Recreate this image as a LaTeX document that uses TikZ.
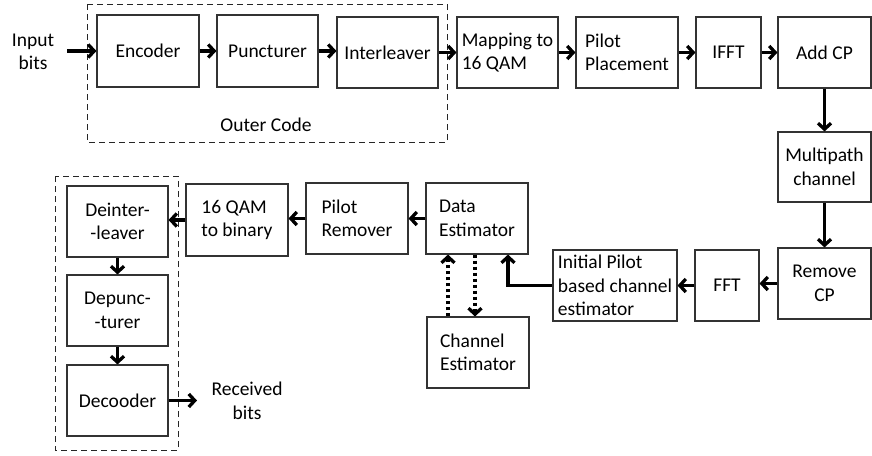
\documentclass[tikz,border=0pt]{standalone}
\usepackage{fontspec}
\setmainfont{Carlito}
\usetikzlibrary{arrows.meta}
\begin{document}
\begin{tikzpicture}[x=1pt,y=-1pt,
  every node/.style={font=\fontsize{19.5}{23.5}\selectfont},
  box/.style={draw=black!80,line width=1.1pt,minimum width=#1,inner sep=0pt,align=center},
  box/.default=102pt,
  arr/.style={line width=3.3pt,-{Straight Barb[length=6pt,width=13pt]}},
  dotarr/.style={arr,dash pattern=on 3.5pt off 2.5pt},
  grp/.style={draw=black!85,line width=1pt,dash pattern=on 6pt off 4pt}]
\useasboundingbox (0,0) rectangle (872,455);
% groups
\draw[grp] (87,4) rectangle (447,142);
\draw[grp] (55,176) rectangle (178,450);
% top row
\node[box=102pt,minimum height=72pt] (enc) at (148,51) {Encoder};
\node[box=101pt,minimum height=72pt] (punc) at (267.5,51) {Puncturer};
\node[box=101pt,minimum height=71pt] (inter) at (387.5,52.5) {Interleaver};
\node[box=101pt,minimum height=71pt,align=left] (map) at (507.5,52.5) {Mapping to\\16 QAM};
\node[box=102pt,minimum height=71pt,align=left] (pil) at (627,52.5) {Pilot\\Placement};
\node[box=65pt,minimum height=71pt] (ifft) at (728.5,52.5) {IFFT};
\node[box=93pt,minimum height=71pt] (add) at (824.5,52.5) {Add CP};
\node[box=93pt,minimum height=70pt] (multi) at (824.5,167) {Multipath\\channel};
\node[box=93pt,minimum height=71pt] (rem) at (824.5,283.5) {Remove\\CP};
\node[box=64pt,minimum height=71pt] (fft) at (727,285.5) {FFT};
\node[box=124pt,minimum height=71pt,align=left] (init) at (615,285.5) {Initial Pilot\\based channel\\estimator};
\node[box=102pt,minimum height=71pt,align=left] (data) at (477,218.5) {Data\\Estimator};
\node[box=102pt,minimum height=71pt,align=left] (chest) at (478,352.5) {Channel\\Estimator};
\node[box=102pt,minimum height=71pt,align=left] (prem) at (357,218.5) {Pilot\\Remover};
\node[box=102pt,minimum height=72pt,align=left] (qam) at (237,220) {16 QAM\\to binary};
\node[box=101pt,minimum height=71pt] (deint) at (117.5,221.5) {Deinter-\\-leaver};
\node[box=101pt,minimum height=71pt] (depunc) at (117.5,310.5) {Depunc-\\-turer};
\node[box=101pt,minimum height=71pt] (dec) at (117.5,400.5) {Decooder};
% free texts
\node[align=center] (inbits) at (33,52) {Input\\bits};
\node[align=center] (recbits) at (247,401) {Received\\bits};
\node (outer) at (266,125) {Outer Code};
% helper coordinates
\coordinate (instart) at (67,51);
\coordinate (recend) at (197,400.5);
\coordinate (cu) at (448,0);
\coordinate (cd) at (475,0);
\coordinate (ci) at (508,0);
% connectors
\draw[arr] (instart) -- (enc.west);
\draw[arr] (enc.east) -- (enc.east -| punc.west);
\draw[arr] (punc.east) -- (punc.east -| inter.west);
\draw[arr] (inter.east) -- (inter.east -| map.west);
\draw[arr] (map.east) -- (pil.west);
\draw[arr] (pil.east) -- (ifft.west);
\draw[arr] (ifft.east) -- (add.west);
\draw[arr] (add.south) -- (multi.north);
\draw[arr] (multi.south) -- (rem.north);
\draw[arr] (rem.west) -- (rem.west -| fft.east);
\draw[arr] (fft.west) -- (init.east);
\draw[arr] (init.west) -| (ci |- data.south);
\draw[dotarr] (cu |- chest.north) -- (cu |- data.south);
\draw[dotarr] (cd |- data.south) -- (cd |- chest.north);
\draw[arr] (data.west) -- (data.west -| prem.east);
\draw[arr] (prem.west) -- (prem.west -| qam.east);
\draw[arr] (qam.west) -- (qam.west -| deint.east);
\draw[arr] (deint.south) -- (depunc.north);
\draw[arr] (depunc.south) -- (dec.north);
\draw[arr] (dec.east) -- (recend);
\end{tikzpicture}
\end{document}
